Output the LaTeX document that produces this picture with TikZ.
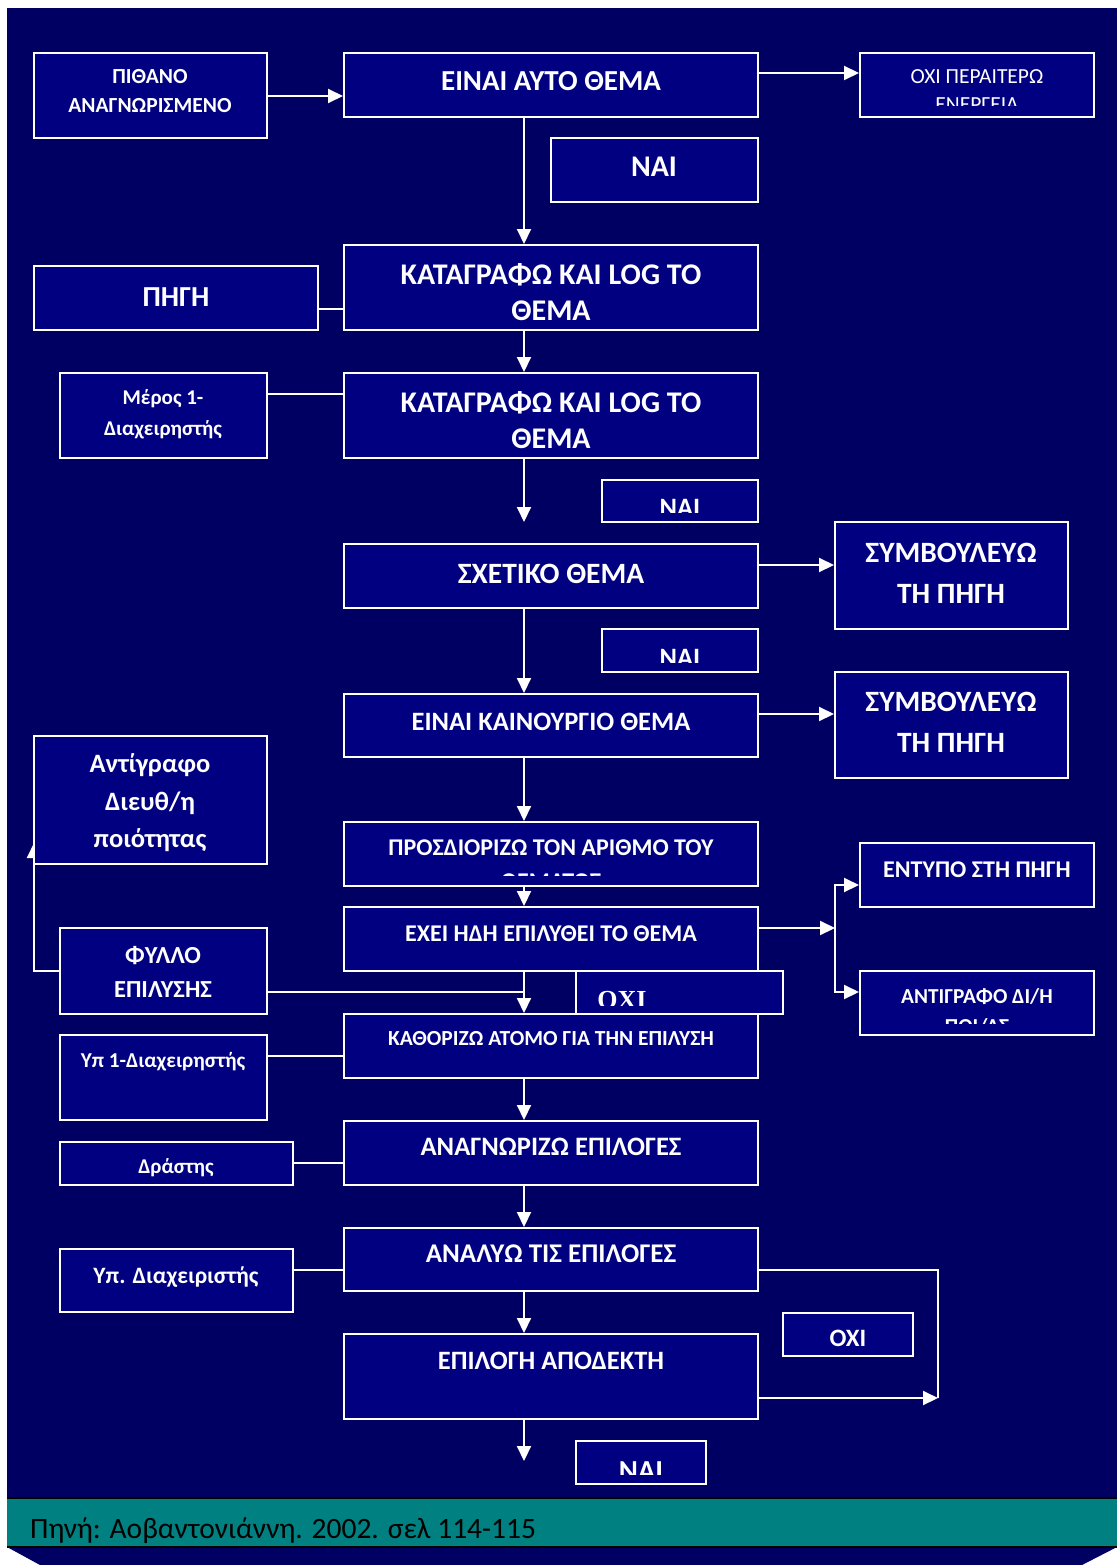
\documentclass[tikz,border=0pt]{standalone}
\usepackage{fontspec}
\setmainfont{Carlito}
\newfontfamily\serifgr{Liberation Serif}
\usetikzlibrary{arrows.meta,fit,calc}
\definecolor{bgnavy}{RGB}{0,0,98}
\definecolor{boxnavy}{RGB}{0,0,128}
\definecolor{footteal}{RGB}{0,128,128}
\newcommand\fs[1]{\fontsize{#1}{#1}\selectfont}
\begin{document}
\begin{tikzpicture}[x=1pt,y=-1pt,
  box/.style={draw=white, fill=boxnavy, line width=2pt, inner sep=0pt, rectangle},
  tl/.style={text=white, anchor=base, inner sep=0pt},
  conn/.style={draw=white, line width=2pt},
  arr/.style={conn, -{Triangle[length=15pt,width=14pt]}},
]
\useasboundingbox (0,0) rectangle (1117,1565);
\fill[white] (0,0) rectangle (1117,1565);
% background
\fill[bgnavy] (7,8) rectangle (1117,1547);
\fill[bgnavy] (7,1547) -- (1117,1547) -- (1082,1565) -- (40,1565) -- cycle;
\fill[footteal] (7,1498) rectangle (1117,1547);
\draw[black, line width=2pt] (7,1498) -- (1117,1498) (7,1547) -- (1117,1547);
\node[anchor=base west, inner sep=0pt, text=black, font=\fs{29.5}] (foot) at (30,1538) {Πηνή: Αοβαντονιάννη. 2002. σελ 114-115};

% arrow behind box 15
\node[box, fit={(60,928) (267,1014)}] (b20) {};
\draw[arr] (b20.west |- 0,971) -| (34,843);

% boxes
\node[box, fit={(34,53) (267,138)}] (b1) {};
\node[box, fit={(344,53) (758,117)}] (b2) {};
\node[box, fit={(860,53) (1094,117)}] (b3) {};
\node[box, fit={(551,138) (758,202)}] (b4) {};
\node[box, fit={(344,245) (758,330)}] (b5) {};
\node[box, fit={(34,266) (318,330)}] (b6) {};
\node[box, fit={(344,373) (758,458)}] (b7) {};
\node[box, fit={(60,373) (267,458)}] (b8) {};
\node[box, fit={(602,480) (758,522)}] (b9) {};
\node[box, fit={(344,544) (758,608)}] (b10) {};
\node[box, fit={(835,522) (1068,629)}] (b11) {};
\node[box, fit={(602,629) (758,672)}] (b12) {};
\node[box, fit={(344,694) (758,757)}] (b13) {};
\node[box, fit={(835,672) (1068,778)}] (b14) {};
\node[box, fit={(34,736) (267,864)}] (b15) {};
\node[box, fit={(344,822) (758,886)}] (b16) {};
\node[box, fit={(344,907) (758,971)}] (b17) {};
\node[box, fit={(860,843) (1094,907)}] (b18) {};
\node[box, fit={(860,971) (1094,1035)}] (b19) {};
\node[box, fit={(344,1014) (758,1078)}] (b22) {};
\node[box, fit={(576,971) (783,1014)}] (b21) {};
\node[box, fit={(60,1035) (267,1120)}] (b23) {};
\node[box, fit={(344,1121) (758,1185)}] (b24) {};
\node[box, fit={(60,1142) (293,1185)}] (b25) {};
\node[box, fit={(344,1228) (758,1291)}] (b26) {};
\node[box, fit={(60,1249) (293,1312)}] (b27) {};
\node[box, fit={(783,1313) (913,1356)}] (b28) {};
\node[box, fit={(344,1334) (758,1419)}] (b29) {};
\node[box, fit={(576,1441) (706,1484)}] (b30) {};

% texts
\node[tl, font=\fs{21.5}\bfseries] (t1a) at (150,84) {ΠΙΘΑΝΟ};
\node[tl, font=\fs{21.5}\bfseries] (t1b) at (150,113) {ΑΝΑΓΝΩΡΙΣΜΕΝΟ};
\node[tl, font=\fs{29}\bfseries] (t2) at (551,91) {ΕΙΝΑΙ ΑΥΤΟ ΘΕΜΑ};
\node[tl, font=\fs{21.5}] (t3a) at (977,84) {ΟΧΙ ΠΕΡΑΙΤΕΡΩ};
\begin{scope}
\clip (b3.north west) rectangle (1094,106);
\node[tl, font=\fs{21.5}] (t3b) at (977,112) {ΕΝΕΡΓΕΙΑ};
\end{scope}
\node[tl, font=\fs{30}\bfseries] (t4) at (654,177) {ΝΑΙ};
\node[tl, font=\fs{30}\bfseries] (t5a) at (551,284) {ΚΑΤΑΓΡΑΦΩ ΚΑΙ LOG ΤΟ};
\node[tl, font=\fs{30}\bfseries] (t5b) at (551,320) {ΘΕΜΑ};
\node[tl, font=\fs{29}\bfseries] (t6) at (176,306) {ΠΗΓΗ};
\node[tl, font=\fs{30}\bfseries] (t7a) at (551,412) {ΚΑΤΑΓΡΑΦΩ ΚΑΙ LOG ΤΟ};
\node[tl, font=\fs{30}\bfseries] (t7b) at (551,448) {ΘΕΜΑ};
\node[tl, font=\fs{21}\bfseries] (t8a) at (163,404) {Μέρος 1-};
\node[tl, font=\fs{21}\bfseries] (t8b) at (163,435) {Διαχειρηστής};
\begin{scope}
\clip (b9.north west) rectangle (758,512);
\node[tl, font=\fs{26.5}\bfseries] (t9) at (680,516) {ΝΑΙ};
\end{scope}
\node[tl, font=\fs{29.5}\bfseries] (t10) at (551,583) {ΣΧΕΤΙΚΟ ΘΕΜΑ};
\node[tl, font=\fs{29.5}\bfseries] (t11a) at (951,562) {ΣΥΜΒΟΥΛΕΥΩ};
\node[tl, font=\fs{29.5}\bfseries] (t11b) at (951,603) {ΤΗ ΠΗΓΗ};
\begin{scope}
\clip (b12.north west) rectangle (758,662);
\node[tl, font=\fs{26.5}\bfseries] (t12) at (680,666) {ΝΑΙ};
\end{scope}
\node[tl, font=\fs{26.5}\bfseries] (t13) at (551,730) {ΕΙΝΑΙ ΚΑΙΝΟΥΡΓΙΟ ΘΕΜΑ};
\node[tl, font=\fs{29.5}\bfseries] (t14a) at (951,711) {ΣΥΜΒΟΥΛΕΥΩ};
\node[tl, font=\fs{29.5}\bfseries] (t14b) at (951,752) {ΤΗ ΠΗΓΗ};
\node[tl, font=\fs{26.5}\bfseries] (t15a) at (150,772) {Αντίγραφο};
\node[tl, font=\fs{26.5}\bfseries] (t15b) at (150,810) {Διευθ/η};
\node[tl, font=\fs{26.5}\bfseries] (t15c) at (150,847) {ποιότητας};
\node[tl, font=\fs{24}\bfseries] (t16a) at (551,855) {ΠΡΟΣΔΙΟΡΙΖΩ ΤΟΝ ΑΡΙΘΜΟ ΤΟΥ};
\begin{scope}
\clip (b16.north west) rectangle (758,875);
\node[tl, font=\fs{24}\bfseries] (t16b) at (551,889) {ΘΕΜΑΤΟΣ};
\end{scope}
\node[tl, font=\fs{24}\bfseries] (t17) at (551,941) {ΕΧΕΙ ΗΔΗ ΕΠΙΛΥΘΕΙ ΤΟ ΘΕΜΑ};
\node[tl, font=\fs{24}\bfseries] (t18) at (977,877) {ΕΝΤΥΠΟ ΣΤΗ ΠΗΓΗ};
\node[tl, font=\fs{21.3}\bfseries] (t19a) at (977,1003) {ΑΝΤΙΓΡΑΦΟ ΔΙ/Η};
\begin{scope}
\clip (b19.north west) rectangle (1094,1023);
\node[tl, font=\fs{21.3}\bfseries] (t19b) at (977,1033) {ΠΟΙ/ΑΣ};
\end{scope}
\node[tl, font=\fs{24.5}\bfseries] (t20a) at (163,963) {ΦΥΛΛΟ};
\node[tl, font=\fs{24.5}\bfseries] (t20b) at (163,997) {ΕΠΙΛΥΣΗΣ};
\begin{scope}
\clip (b21.north west) rectangle (783,1005);
\node[tl, font=\fs{26}\serifgr\bfseries] (t21) at (622,1008) {ΟΧΙ};
\end{scope}
\node[tl, font=\fs{21.5}\bfseries] (t22) at (551,1045) {ΚΑΘΟΡΙΖΩ ΑΤΟΜΟ ΓΙΑ ΤΗΝ ΕΠΙΛΥΣΗ};
\node[tl, font=\fs{21.2}\bfseries] (t23) at (163,1067) {Υπ 1-Διαχειρηστής};
\node[tl, font=\fs{26.6}\bfseries] (t24) at (551,1155) {ΑΝΑΓΝΩΡΙΖΩ ΕΠΙΛΟΓΕΣ};
\node[tl, font=\fs{21}\bfseries] (t25) at (176,1173) {Δράστης};
\node[tl, font=\fs{27}\bfseries] (t26) at (551,1262) {ΑΝΑΛΥΩ ΤΙΣ ΕΠΙΛΟΓΕΣ};
\node[tl, font=\fs{23.5}\bfseries] (t27) at (176,1283) {Υπ. Διαχειριστής};
\node[tl, font=\fs{25}\bfseries] (t28) at (848,1346) {ΟΧΙ};
\node[tl, font=\fs{26.5}\bfseries] (t29) at (551,1369) {ΕΠΙΛΟΓΗ ΑΠΟΔΕΚΤΗ};
\begin{scope}
\clip (b30.north west) rectangle (706,1474);
\node[tl, font=\fs{29}\bfseries] (t30) at (641,1480) {ΝΑΙ};
\end{scope}

% connectors
\draw[arr] (b1.east |- 0,96) -- (b2.west |- 0,96);
\draw[arr] (b2.east |- 0,73) -- (b3.west |- 0,73);
\draw[arr] (524,0 |- b2.south) -- (524,0 |- b5.north);
\draw[conn] (b6.east |- 0,309) -- (b5.west |- 0,309);
\draw[arr] (524,0 |- b5.south) -- (524,0 |- b7.north);
\draw[conn] (b8.east |- 0,394) -- (b7.west |- 0,394);
\coordinate (e1) at (524,522);
\draw[arr] (524,0 |- b7.south) -- (e1);
\draw[arr] (b10.east |- 0,565) -- (b11.west |- 0,565);
\draw[arr] (524,0 |- b10.south) -- (524,0 |- b13.north);
\draw[arr] (b13.east |- 0,714) -- (b14.west |- 0,714);
\draw[arr] (524,0 |- b13.south) -- (524,0 |- b16.north);
\draw[arr] (524,0 |- b16.south) -- (524,0 |- b17.north);
\coordinate (sp) at (835,928);
\draw[arr] (b17.east |- sp) -- (sp);
\draw[arr] (sp) |- (b18.west |- 0,885);
\draw[arr] (sp) |- (b19.west |- 0,992);
\draw[arr] (524,0 |- b17.south) -- (524,0 |- b22.north);
\coordinate (j1) at (524,992);
\draw[conn] (b20.east |- j1) -- (j1);
\draw[conn] (b23.east |- 0,1056) -- (b22.west |- 0,1056);
\draw[arr] (524,0 |- b22.south) -- (524,0 |- b24.north);
\draw[conn] (b25.east |- 0,1163) -- (b24.west |- 0,1163);
\draw[arr] (524,0 |- b24.south) -- (524,0 |- b26.north);
\draw[conn] (b27.east |- 0,1270) -- (b26.west |- 0,1270);
\coordinate (lp) at (938,1398);
\draw[conn] (b26.east |- 0,1270) -| (lp);
\draw[arr] (b29.east |- lp) -- (lp);
\draw[arr] (524,0 |- b26.south) -- (524,0 |- b29.north);
\coordinate (e2) at (524,1461);
\draw[arr] (524,0 |- b29.south) -- (e2);
\end{tikzpicture}
\end{document}
